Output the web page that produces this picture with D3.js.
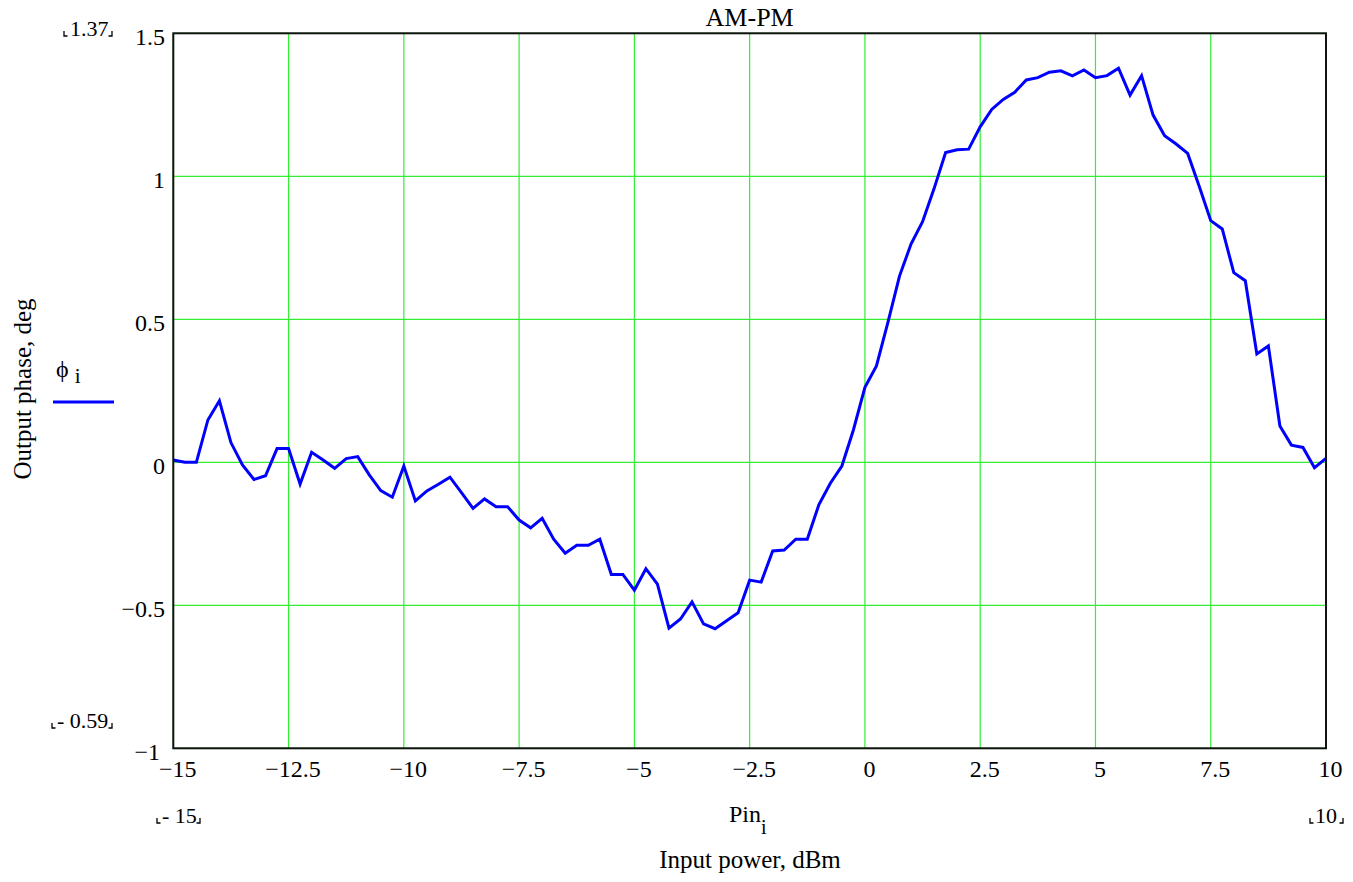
<!DOCTYPE html>
<html>
<head>
<meta charset="utf-8">
<script src="https://cdn.jsdelivr.net/npm/d3@7"></script>
<style>
  html, body { margin: 0; padding: 0; background: #fff; }
  svg text { font-family: "Liberation Serif", "Times New Roman", serif; fill: #000; }
</style>
</head>
<body>
<svg id="chart" width="1353" height="882"></svg>
<script>
// ---- data ----
const pinStart = -15, pinStep = 0.25;
const phase = [
  0.008, 0.0, 0.0, 0.148, 0.215, 0.069, -0.009, -0.06, -0.047, 0.048,
  0.048, -0.076, 0.035, 0.008, -0.021, 0.013, 0.02, -0.044, -0.099, -0.122,
  -0.013, -0.135, -0.1, -0.077, -0.052, -0.106, -0.161, -0.128, -0.155, -0.155,
  -0.202, -0.229, -0.196, -0.269, -0.318, -0.29, -0.29, -0.269, -0.392, -0.392,
  -0.447, -0.372, -0.426, -0.58, -0.548, -0.488, -0.565, -0.582, -0.554, -0.526,
  -0.412, -0.419, -0.31, -0.307, -0.269, -0.269, -0.149, -0.073, -0.013, 0.113,
  0.262, 0.337, 0.49, 0.651, 0.763, 0.841, 0.957, 1.083, 1.093, 1.095,
  1.173, 1.234, 1.269, 1.294, 1.337, 1.345, 1.364, 1.369, 1.351, 1.372,
  1.345, 1.352, 1.378, 1.284, 1.352, 1.214, 1.142, 1.113, 1.08, 0.965,
  0.845, 0.816, 0.663, 0.635, 0.379, 0.407, 0.127, 0.06, 0.052, -0.019,
  0.014
];
const pin = phase.map((_, i) => pinStart + i * pinStep);
const xTicks = [-15, -12.5, -10, -7.5, -5, -2.5, 0, 2.5, 5, 7.5, 10];
const yTicks = [-1, -0.5, 0, 0.5, 1, 1.5];
const xDomain = [-15, 10];
const yDomain = [-1, 1.5];
const title = "AM-PM";
const xLabel = "Input power, dBm";
const yLabel = "Output phase, deg";
const xVarName = "Pin";
const yVarName = "\u03D5";
const markerTopLeft = "1.37";
const markerBottomLeft = "- 0.59";
const markerXLeft = "- 15";
const markerXRight = "10";

// ---- layout ----
const L = 173.3, R = 1326, T = 33.3, B = 748.3;
const svg = d3.select("#chart");
const x = d3.scaleLinear().domain(xDomain).range([L, R]);
const y = d3.scaleLinear().domain(yDomain).range([B, T]);
const fmt = v => (v < 0 ? "\u2212" + Math.abs(v) : String(v));
const FS = 24;

// grid
const grid = svg.append("g");
grid.selectAll("line.gx").data(xTicks).join("line")
  .attr("x1", d => x(d)).attr("x2", d => x(d)).attr("y1", T).attr("y2", B)
  .attr("stroke", "#33ee33").attr("stroke-width", 1.2);
grid.selectAll("line.gy").data(yTicks).join("line")
  .attr("x1", L).attr("x2", R).attr("y1", d => y(d)).attr("y2", d => y(d))
  .attr("stroke", "#33ee33").attr("stroke-width", 1.2);

// curve
const line = d3.line().x((d, i) => x(pin[i])).y(d => y(d));
svg.append("path").datum(phase)
  .attr("d", line).attr("fill", "none")
  .attr("stroke", "#0000ff").attr("stroke-width", 3)
  .attr("stroke-linejoin", "miter");

// frame
svg.append("rect").attr("x", L).attr("y", T).attr("width", R - L).attr("height", B - T)
  .attr("fill", "none").attr("stroke", "#111").attr("stroke-width", 2);

// axes labels via d3 axes (no domain / tick lines)
const xAxis = d3.axisBottom(x).tickValues(xTicks).tickFormat(fmt).tickSize(0).tickPadding(0);
const gx = svg.append("g").attr("transform", `translate(4,${B})`).call(xAxis);
gx.select(".domain").remove();
gx.selectAll("text").attr("font-size", FS).attr("font-family", "Liberation Serif")
  .attr("dy", null).attr("y", 29);

const yAxis = d3.axisLeft(y).tickValues(yTicks).tickFormat(fmt).tickSize(0).tickPadding(0);
const gy = svg.append("g").attr("transform", `translate(165,0)`).call(yAxis);
gy.select(".domain").remove();
gy.selectAll("text").attr("font-size", FS).attr("font-family", "Liberation Serif")
  .attr("dy", null).attr("y", 11)
  .attr("x", d => d === -1 ? -5 : 0);

// title
svg.append("text").attr("x", (L + R) / 2).attr("y", 26).attr("text-anchor", "middle")
  .attr("font-size", 26).text(title);

// x label
const xl = svg.append("text").attr("x", 729).attr("y", 822).attr("font-size", FS);
xl.append("tspan").text(xVarName);
xl.append("tspan").attr("font-size", 20).attr("dy", 12).text("i");
svg.append("text").attr("x", 750).attr("y", 868).attr("text-anchor", "middle")
  .attr("font-size", 25).text(xLabel);

// y label (rotated)
svg.append("text").attr("transform", "translate(31,389) rotate(-90)")
  .attr("text-anchor", "middle").attr("font-size", 25).text(yLabel);

// legend
const lg = svg.append("text").attr("x", 56).attr("y", 377).attr("font-size", 24);
lg.append("tspan").text(yVarName);
lg.append("tspan").attr("dx", 6).attr("dy", 6).attr("font-size", 21).text("i");
svg.append("line").attr("x1", 53).attr("x2", 114).attr("y1", 402).attr("y2", 402)
  .attr("stroke", "#0000ff").attr("stroke-width", 3);

// MathCAD placeholder markers
function marker(txt, xLeft, xRight, baseline, tx) {
  svg.append("text").attr("x", tx).attr("y", baseline).attr("font-size", 22).text(txt);
  const g = svg.append("g").attr("stroke", "#000").attr("stroke-width", 1.3).attr("fill", "none");
  g.append("path").attr("d", `M${xLeft},${baseline - 5} V${baseline} H${xLeft + 3.5}`);
  g.append("path").attr("d", `M${xRight},${baseline - 5} V${baseline} H${xRight - 3.5}`);
}
marker(markerTopLeft, 64, 112, 36, 70);
marker(markerBottomLeft, 52, 112, 728, 57);
marker(markerXLeft, 157, 200, 823, 162);
marker(markerXRight, 1310, 1343, 823, 1315);
</script>
</body>
</html>
